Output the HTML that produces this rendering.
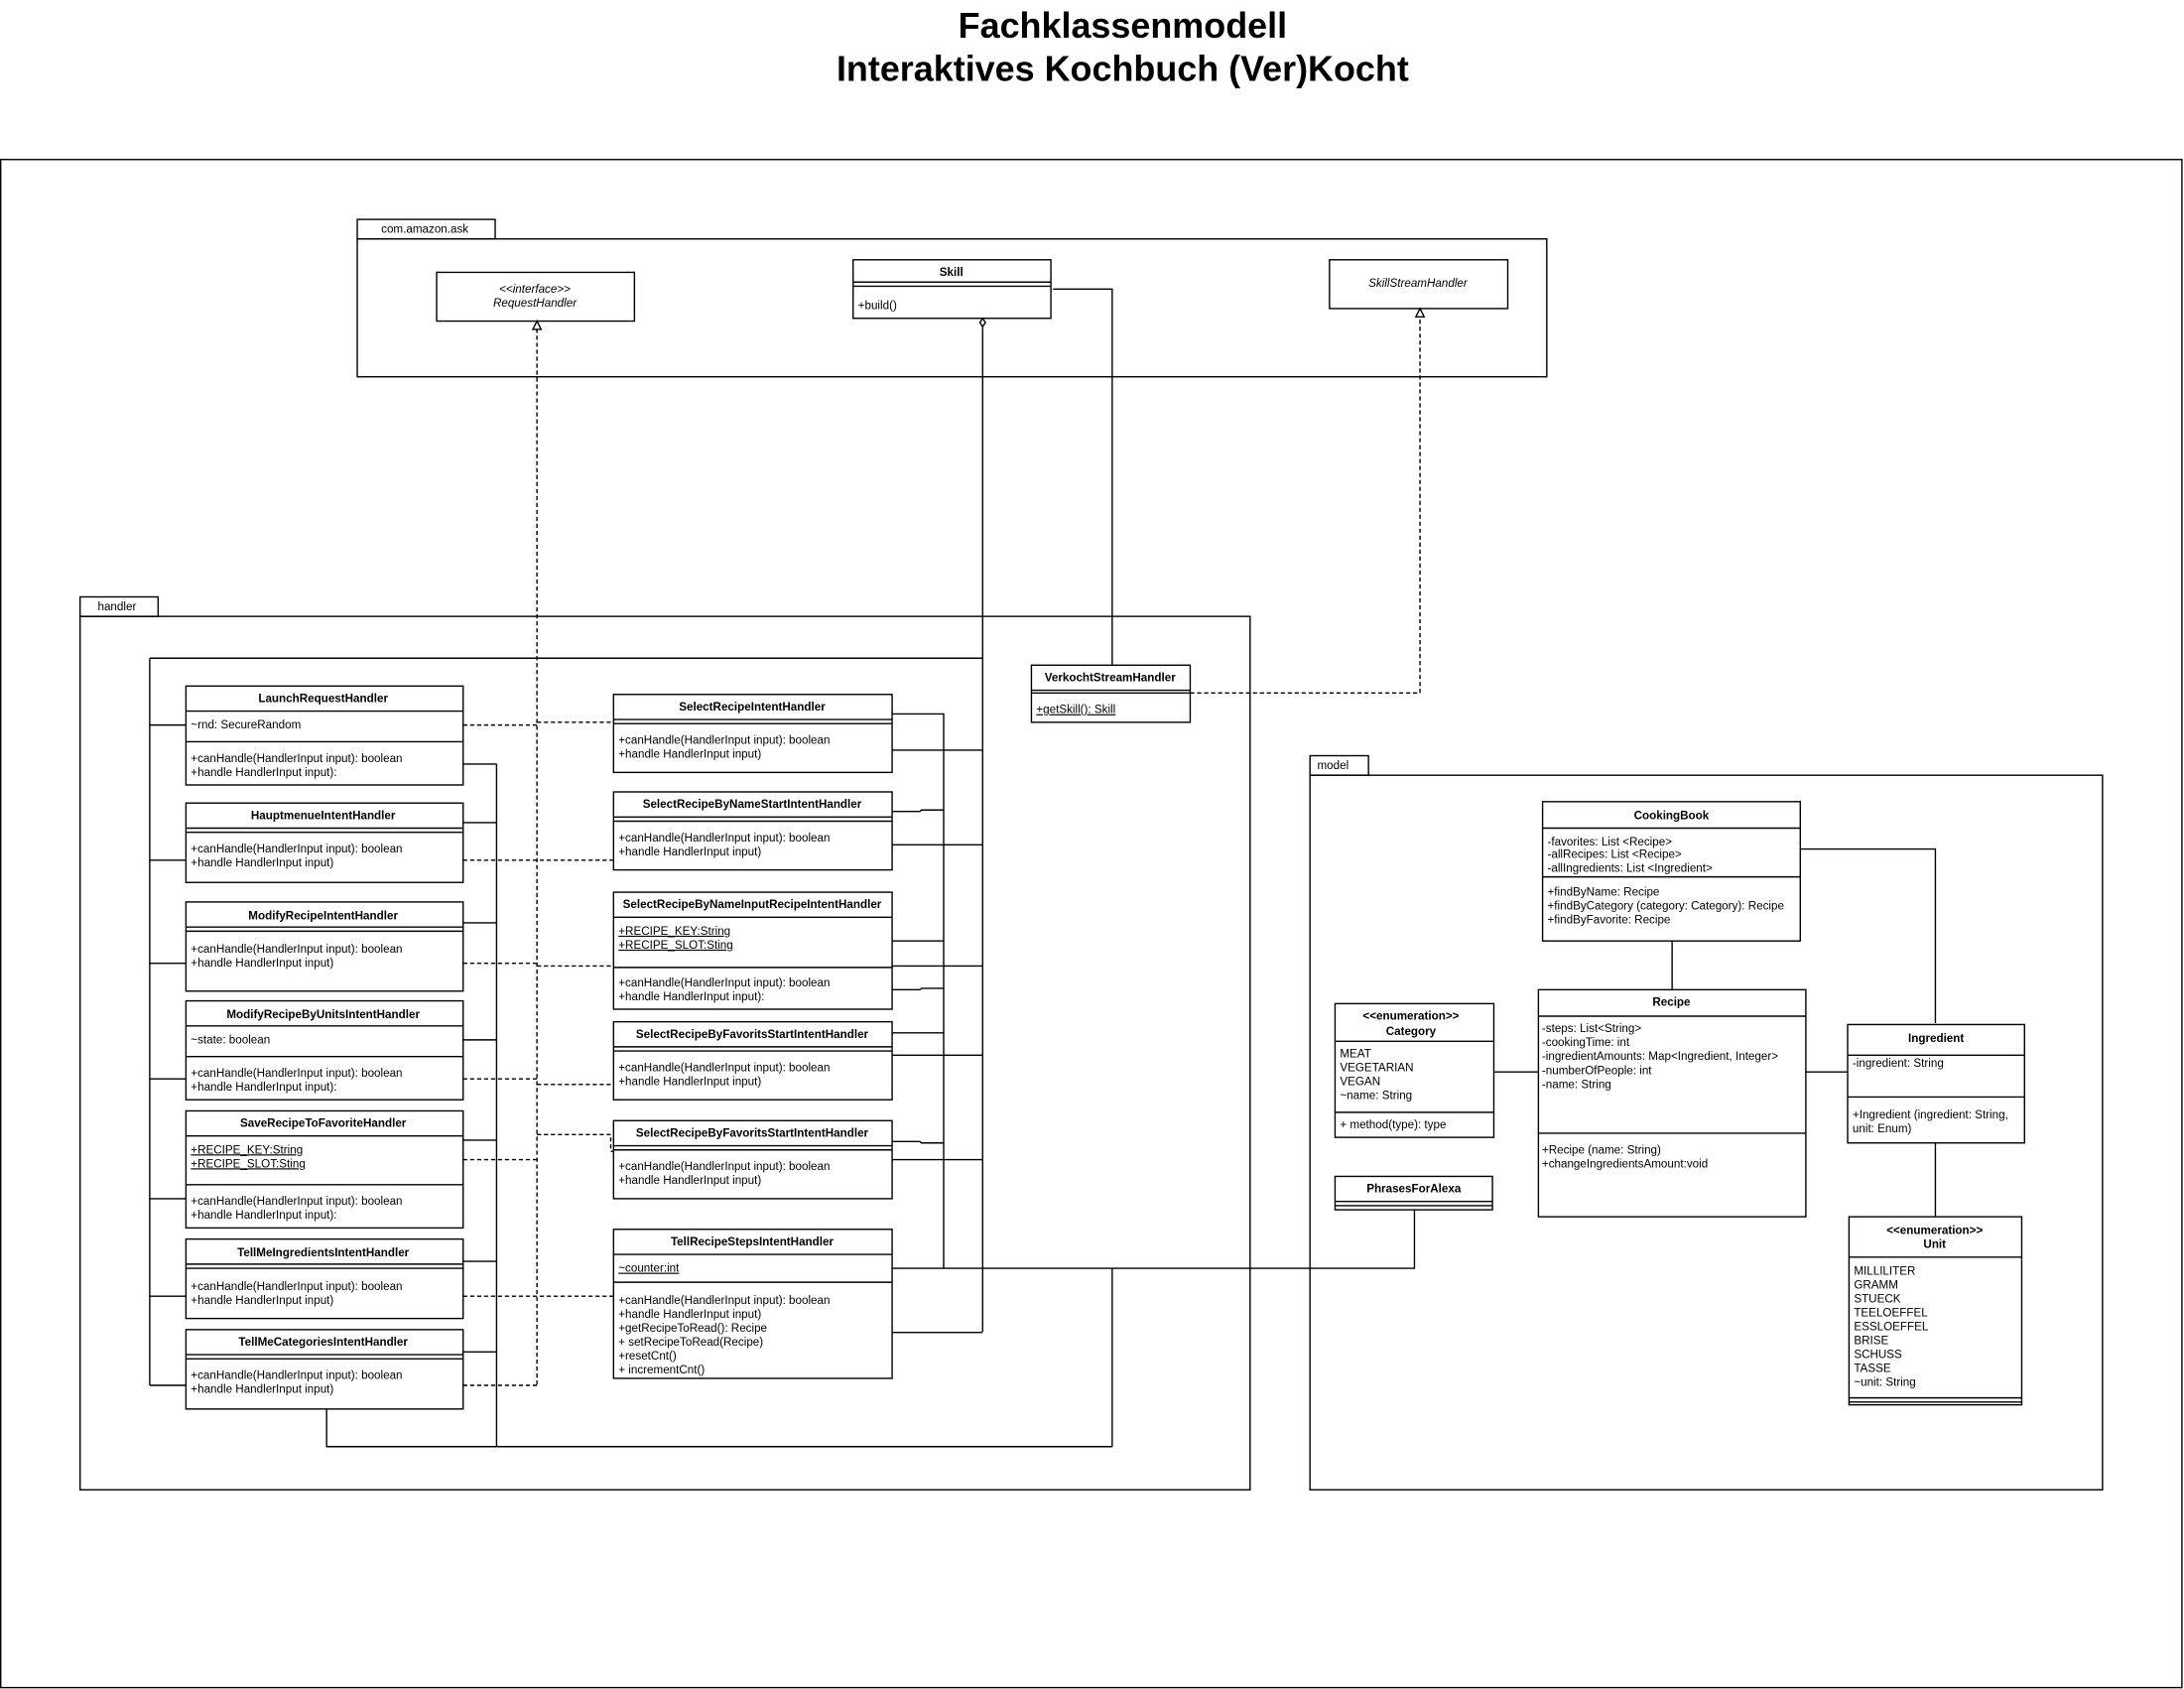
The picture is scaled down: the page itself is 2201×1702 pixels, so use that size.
<!DOCTYPE html>
<html><head><meta charset="utf-8"><style>
html,body{margin:0;padding:0;background:#fff}
svg{display:block}
text{font-family:"Liberation Sans",sans-serif;font-size:8.3px;fill:#000}
.b{font-weight:bold}
.c{text-anchor:middle}
.i{font-style:italic}
.u{text-decoration:underline}
</style></head><body>
<svg width="2201" height="1702" viewBox="0 0 1568 1212.5" xmlns="http://www.w3.org/2000/svg">
<rect width="1568" height="1213" fill="#fff"/>
<text x="806" y="27" class="b c" style="font-size:25.6px">Fachklassenmodell</text>
<text x="806" y="58" class="b c" style="font-size:25.6px">Interaktives Kochbuch (Ver)Kocht</text>
<g fill="none" stroke="#000" stroke-width="1">
<rect x="0.5" y="114.5" width="1566" height="1097"/>
<rect x="256.5" y="157.5" width="99" height="14"/>
<rect x="256.5" y="171.5" width="854" height="99"/>
<rect x="57.5" y="428.5" width="56" height="14"/>
<rect x="57.5" y="442.5" width="840" height="627"/>
<rect x="940.5" y="542.5" width="42" height="14"/>
<rect x="940.5" y="556.5" width="569" height="513"/>

<rect x="313.5" y="195.5" width="142" height="35"/>
<rect x="612.5" y="186.5" width="142" height="42"/>
<path d="M612.5 202.5h142M612.5 205.5h142"/>
<rect x="954.5" y="186.5" width="128" height="35"/>

<rect x="133.5" y="492.5" width="199" height="71"/><path d="M133.5 510.5h199M133.5 532.5h199"/>
<rect x="133.5" y="576.5" width="199" height="57"/><path d="M133.5 594.5h199M133.5 597.5h199"/>
<rect x="133.5" y="647.5" width="199" height="64"/><path d="M133.5 665.5h199M133.5 668.5h199"/>
<rect x="133.5" y="718.5" width="199" height="71"/><path d="M133.5 736.5h199M133.5 758.5h199"/>
<rect x="133.5" y="797.5" width="199" height="84"/><path d="M133.5 815.5h199M133.5 850.5h199"/>
<rect x="133.5" y="889.5" width="199" height="57"/><path d="M133.5 907.5h199M133.5 910.5h199"/>
<rect x="133.5" y="954.5" width="199" height="57"/><path d="M133.5 972.5h199M133.5 975.5h199"/>

<rect x="440.5" y="498.5" width="200" height="56"/><path d="M440.5 516.5h200M440.5 519.5h200"/>
<rect x="440.5" y="568.5" width="200" height="56"/><path d="M440.5 586.5h200M440.5 589.5h200"/>
<rect x="440.5" y="640.5" width="200" height="84"/><path d="M440.5 658.5h200M440.5 694.5h200"/>
<rect x="440.5" y="733.5" width="200" height="56"/><path d="M440.5 751.5h200M440.5 754.5h200"/>
<rect x="440.5" y="804.5" width="200" height="56"/><path d="M440.5 822.5h200M440.5 825.5h200"/>
<rect x="440.5" y="882.5" width="200" height="107"/><path d="M440.5 900.5h200M440.5 920.5h200"/>

<rect x="740.5" y="477.5" width="114" height="41"/><path d="M740.5 495.5h114M740.5 497.5h114"/>

<path d="M107.5 472.5h598M107.5 472.5v522"/>
<path d="M107.5 520.5h26M107.5 617.5h26M107.5 691.5h26M107.5 774.5h26M107.5 860.5h26M107.5 930.5h26M107.5 994.5h26"/>
<path d="M332.5 548.5h24M332.5 590.5h24M332.5 662.5h24M332.5 746.5h24M332.5 818.5h24M332.5 905.5h24M332.5 970.5h24M356.5 548.5v490"/>
<path d="M234.5 1011.5v27h564M798.5 910.5v128"/>
<path d="M756 207.5h42.5v270"/>
<path d="M705.5 232v724"/>
<path d="M677.5 512v398.5"/>
<path d="M640.5 512.5h37M640.5 582.5h20l1 -1h16M640.5 675.5h37M640.5 710.5h20l1 -1h16M640.5 741.5h37M640.5 819.5h20l1 1h16"/>
<path d="M640.5 538.5h65M640.5 606.5h65M640.5 693.5h65M640.5 757.5h65M640.5 832.5h65M640.5 956.5h65"/>
<path d="M640.5 910.5h375v-42"/>

<path d="M1073 769.5h31M1296 769.5h30M1200.5 675v35M1292 609.5h97.5v125M1389.5 820v53"/>
<rect x="1107.5" y="575.5" width="185" height="100"/><path d="M1107.5 594.5h185M1107.5 629.5h185"/>
<rect x="1104.5" y="710.5" width="192" height="163"/><path d="M1104.5 729.5h192M1104.5 813.5h192"/>
<rect x="958.5" y="720.5" width="114" height="96"/><path d="M958.5 747.5h114M958.5 798.5h114"/>
<rect x="958.5" y="844.5" width="113" height="24"/><path d="M958.5 862.5h113M958.5 865.5h113"/>
<rect x="1326.5" y="735.5" width="127" height="85"/><path d="M1326.5 757.5h127M1326.5 787.5h127"/>
<rect x="1327.5" y="873.5" width="124" height="135"/><path d="M1327.5 902.5h124M1327.5 1003.5h124M1327.5 1006.5h124"/>
</g>
<g fill="none" stroke="#000" stroke-width="1" stroke-dasharray="3,2">
<path d="M385.5 236v758.5"/>
<path d="M332.5 520.5h53M385.5 518.5h55M332.5 617.5h108M332.5 691.5h53M385.5 693.5h55M332.5 774.5h53M385.5 778.5h55M332.5 832.5h53M385.5 814.5h53v12h2M332.5 930.5h108M332.5 994.5h53"/>
<path d="M854.5 497.5h165v-270"/>
</g>
<g fill="#fff" stroke="#000" stroke-width="1">
<path d="M385.5 230.5l-3 6h6z"/>
<path d="M1019.5 221.5l-3 6h6z"/>
<path d="M705.5 228.5l-2 3l2 3l2 -3z"/>
</g>
<text x="305" y="167" class="c">com.amazon.ask</text>
<text x="84" y="438" class="c">handler</text>
<text x="957" y="552" class="c">model</text>
<text x="384" y="210" class="c i">&lt;&lt;interface&gt;&gt;</text>
<text x="384" y="220" class="c i">RequestHandler</text>
<text x="683" y="198" class="c b">Skill</text>
<text x="616" y="222">+build()</text>
<text x="1018" y="206" class="c i">SkillStreamHandler</text>

<text x="232" y="504" class="c b">LaunchRequestHandler</text>
<text x="137" y="523">~rnd: SecureRandom</text>
<text x="137" y="547">+canHandle(HandlerInput input): boolean</text>
<text x="137" y="557">+handle HandlerInput input):</text>
<text x="232" y="588" class="c b">HauptmenueIntentHandler</text>
<text x="137" y="612">+canHandle(HandlerInput input): boolean</text>
<text x="137" y="622">+handle HandlerInput input)</text>
<text x="232" y="660" class="c b">ModifyRecipeIntentHandler</text>
<text x="137" y="684">+canHandle(HandlerInput input): boolean</text>
<text x="137" y="694">+handle HandlerInput input)</text>
<text x="232" y="731" class="c b">ModifyRecipeByUnitsIntentHandler</text>
<text x="137" y="749">~state: boolean</text>
<text x="137" y="773">+canHandle(HandlerInput input): boolean</text>
<text x="137" y="783">+handle HandlerInput input):</text>
<text x="232" y="809" class="c b">SaveRecipeToFavoriteHandler</text>
<text x="137" y="828" class="u">+RECIPE_KEY:String</text>
<text x="137" y="838" class="u">+RECIPE_SLOT:Sting</text>
<text x="137" y="865">+canHandle(HandlerInput input): boolean</text>
<text x="137" y="875">+handle HandlerInput input):</text>
<text x="232" y="902" class="c b">TellMeIngredientsIntentHandler</text>
<text x="137" y="926">+canHandle(HandlerInput input): boolean</text>
<text x="137" y="936">+handle HandlerInput input)</text>
<text x="232" y="966" class="c b">TellMeCategoriesIntentHandler</text>
<text x="137" y="990">+canHandle(HandlerInput input): boolean</text>
<text x="137" y="1000">+handle HandlerInput input)</text>

<text x="540" y="510" class="c b">SelectRecipeIntentHandler</text>
<text x="444" y="534">+canHandle(HandlerInput input): boolean</text>
<text x="444" y="544">+handle HandlerInput input)</text>
<text x="540" y="580" class="c b">SelectRecipeByNameStartIntentHandler</text>
<text x="444" y="604">+canHandle(HandlerInput input): boolean</text>
<text x="444" y="614">+handle HandlerInput input)</text>
<text x="540" y="652" class="c b">SelectRecipeByNameInputRecipeIntentHandler</text>
<text x="444" y="671" class="u">+RECIPE_KEY:String</text>
<text x="444" y="681" class="u">+RECIPE_SLOT:Sting</text>
<text x="444" y="708">+canHandle(HandlerInput input): boolean</text>
<text x="444" y="718">+handle HandlerInput input):</text>
<text x="540" y="745" class="c b">SelectRecipeByFavoritsStartIntentHandler</text>
<text x="444" y="769">+canHandle(HandlerInput input): boolean</text>
<text x="444" y="779">+handle HandlerInput input)</text>
<text x="540" y="816" class="c b">SelectRecipeByFavoritsStartIntentHandler</text>
<text x="444" y="840">+canHandle(HandlerInput input): boolean</text>
<text x="444" y="850">+handle HandlerInput input)</text>
<text x="540" y="894" class="c b">TellRecipeStepsIntentHandler</text>
<text x="444" y="913" class="u">~counter:int</text>
<text x="444" y="936">+canHandle(HandlerInput input): boolean</text>
<text x="444" y="946">+handle HandlerInput input)</text>
<text x="444" y="956">+getRecipeToRead(): Recipe</text>
<text x="444" y="966">+ setRecipeToRead(Recipe)</text>
<text x="444" y="976">+resetCnt()</text>
<text x="444" y="986">+ incrementCnt()</text>

<text x="797" y="489" class="c b">VerkochtStreamHandler</text>
<text x="744" y="512" class="u">+getSkill(): Skill</text>

<text x="1200" y="588" class="c b">CookingBook</text>
<text x="1111" y="607">-favorites: List &lt;Recipe&gt;</text>
<text x="1111" y="616">-allRecipes: List &lt;Recipe&gt;</text>
<text x="1111" y="626">-allIngredients: List &lt;Ingredient&gt;</text>
<text x="1111" y="643">+findByName: Recipe</text>
<text x="1111" y="653">+findByCategory (category: Category): Recipe</text>
<text x="1111" y="663">+findByFavorite: Recipe</text>
<text x="1200" y="722" class="c b">Recipe</text>
<text x="1107" y="741">-steps: List&lt;String&gt;</text>
<text x="1107" y="751">-cookingTime: int</text>
<text x="1107" y="761">-ingredientAmounts: Map&lt;Ingredient, Integer&gt;</text>
<text x="1107" y="771">-numberOfPeople: int</text>
<text x="1107" y="781">-name: String</text>
<text x="1107" y="828">+Recipe (name: String)</text>
<text x="1107" y="838">+changeIngredientsAmount:void</text>
<text x="1013" y="732" class="c b">&lt;&lt;enumeration&gt;&gt;</text>
<text x="1013" y="743" class="c b">Category</text>
<text x="962" y="759">MEAT</text>
<text x="962" y="769">VEGETARIAN</text>
<text x="962" y="779">VEGAN</text>
<text x="962" y="789">~name: String</text>
<text x="962" y="810">+ method(type): type</text>
<text x="1015" y="856" class="c b">PhrasesForAlexa</text>
<text x="1390" y="748" class="c b">Ingredient</text>
<text x="1330" y="766">-ingredient: String</text>
<text x="1330" y="803">+Ingredient (ingredient: String,</text>
<text x="1330" y="813">unit: Enum)</text>
<text x="1389" y="886" class="c b">&lt;&lt;enumeration&gt;&gt;</text>
<text x="1389" y="896" class="c b">Unit</text>
<text x="1331" y="915">MILLILITER</text>
<text x="1331" y="925">GRAMM</text>
<text x="1331" y="935">STUECK</text>
<text x="1331" y="945">TEELOEFFEL</text>
<text x="1331" y="955">ESSLOEFFEL</text>
<text x="1331" y="965">BRISE</text>
<text x="1331" y="975">SCHUSS</text>
<text x="1331" y="985">TASSE</text>
<text x="1331" y="995">~unit: String</text>
</svg>
</body></html>
